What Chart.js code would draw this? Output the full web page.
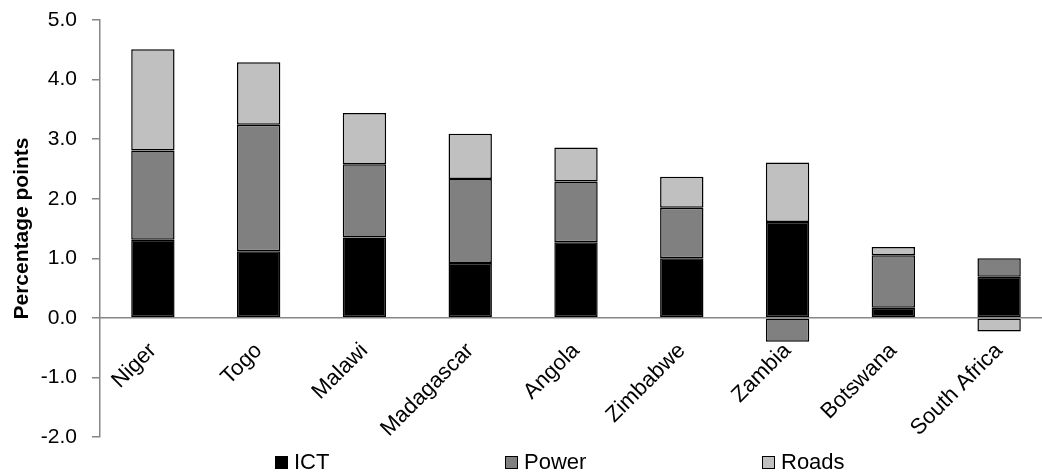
<!DOCTYPE html>
<html>
<head>
<meta charset="utf-8">
<script src="https://cdn.jsdelivr.net/npm/chart.js@4/dist/chart.umd.min.js"></script>
<style>
    body { margin: 0; background: #fff; overflow: hidden; }
    #wrap { position: relative; width: 1052px; height: 475px; }
    #legend { position: absolute; left: 0; top: 449px; width: 1052px; height: 26px;
              font-family: "Liberation Sans", Arial, sans-serif; font-size: 22px; color: #000; }
    .lg { position: absolute; top: 0; display: flex; align-items: center; line-height: 26px; }
    .lg i { display: inline-block; width: 11px; height: 11px; border: 1px solid #000; margin-right: 6px; }
    .lg-0 { left: 275px; }
    .lg-1 { left: 505px; }
    .lg-2 { left: 762px; }
</style>
</head>
<body>
<div id="wrap">
    <canvas id="chart"></canvas>
    <div id="legend"></div>
</div>
<script>
const categories = ["Niger", "Togo", "Malawi", "Madagascar", "Angola", "Zimbabwe", "Zambia", "Botswana", "South Africa"];
const ictValues = [1.31, 1.12, 1.35, 0.92, 1.27, 1.00, 1.61, 0.17, 0.69];
const powerValues = [1.50, 2.12, 1.23, 1.41, 1.02, 0.85, -0.40, 0.88, 0.31];
const roadsValues = [1.70, 1.05, 0.86, 0.76, 0.57, 0.52, 1.00, 0.14, -0.23];
const yTicks = [-2, -1, 0, 1, 2, 3, 4, 5];

const axisGrey = "#868686";
Chart.defaults.font.family = '"Liberation Sans", Arial, sans-serif';
Chart.defaults.font.size = 21;
Chart.defaults.color = "#000";

function series(label, data, colour) {
    return {
        label: label,
        data: data,
        backgroundColor: colour,
        borderColor: "#000",
        borderWidth: 1.5,
        borderSkipped: false,
        barPercentage: 0.41,
        categoryPercentage: 1
    };
}

const ctx = document.getElementById("chart").getContext("2d");
const chart = new Chart(ctx, {
    type: "bar",
    data: {
        labels: categories,
        datasets: [
            series("ICT", ictValues, "#000000"),
            series("Power", powerValues, "#808080"),
            series("Roads", roadsValues, "#c0c0c0")
        ]
    },
    options: {
        responsive: true,
        maintainAspectRatio: false,
        animation: false,
        layout: { padding: { top: 20, bottom: 38, left: 0, right: 0 } },
        plugins: {
            legend: { display: false },
            tooltip: { enabled: false }
        },
        scales: {
            x: {
                stacked: true,
                position: { y: 0 },
                grid: { display: false },
                border: { display: true, color: axisGrey, width: 1.5 },
                ticks: { maxRotation: 45, minRotation: 45, padding: 12, autoSkip: false, font: { size: 22 } }
            },
            y: {
                stacked: true,
                min: yTicks[0],
                max: yTicks[yTicks.length - 1],
                afterBuildTicks: scale => { scale.ticks = yTicks.map(v => ({ value: v })); },
                afterFit: scale => {
                    scale.width = 100;
                    scale.paddingTop = 10;
                    scale.paddingBottom = 10;
                },
                grid: { drawOnChartArea: false, drawTicks: true, tickLength: 8, color: axisGrey, lineWidth: 1.5 },
                border: { display: true, color: axisGrey, width: 1.5 },
                ticks: { padding: 15, callback: v => v.toFixed(1) },
                title: {
                    display: true,
                    text: "Percentage points",
                    font: { size: 21, weight: "bold" },
                    padding: { top: 10, bottom: 0 }
                }
            }
        }
    }
});

// legend below the plot, built from the datasets
const legend = document.getElementById("legend");
chart.data.datasets.forEach((ds, i) => {
    const item = document.createElement("span");
    item.className = "lg lg-" + i;
    const box = document.createElement("i");
    box.style.background = ds.backgroundColor;
    item.appendChild(box);
    item.appendChild(document.createTextNode(ds.label));
    legend.appendChild(item);
});
</script>
</body>
</html>
